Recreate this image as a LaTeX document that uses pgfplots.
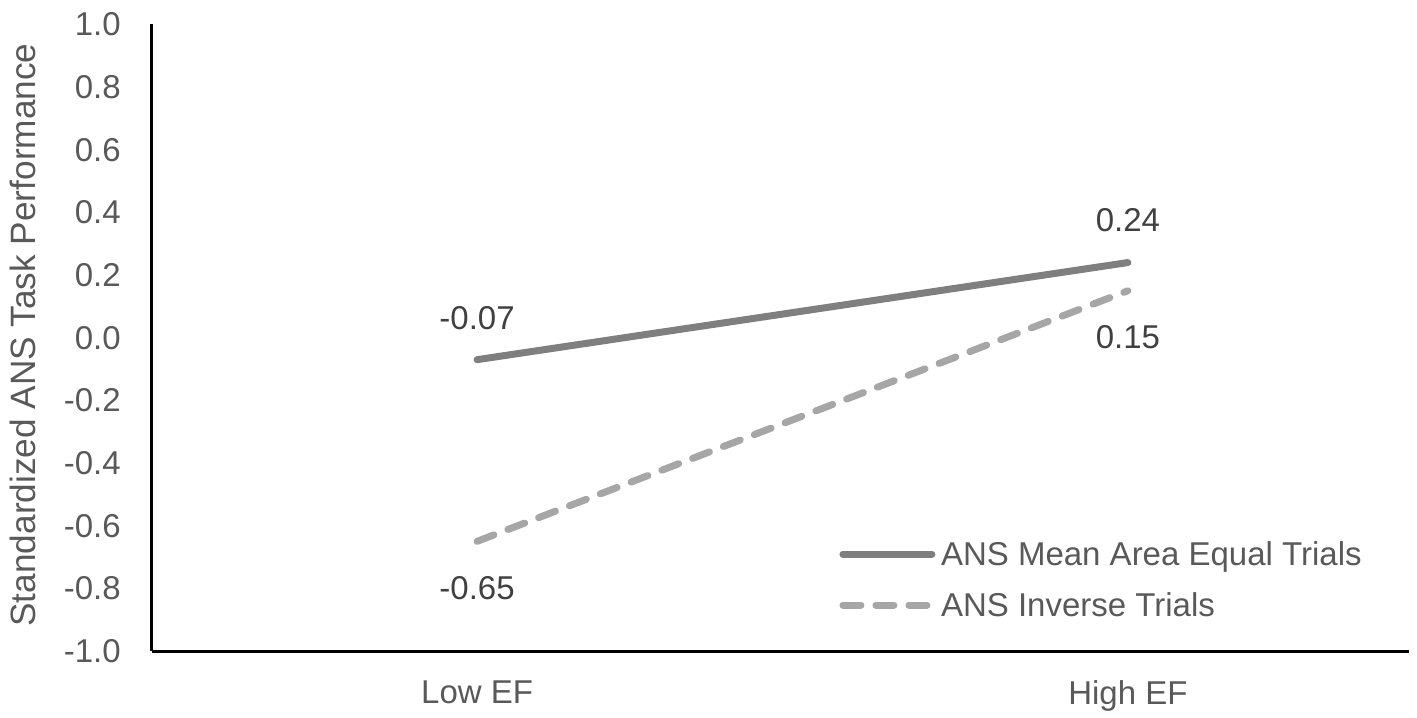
\documentclass[border=0pt]{standalone}
\usepackage{fontspec}
\setmainfont{Liberation Sans}
\usepackage{pgfplots}
\pgfplotsset{compat=1.18}
\definecolor{ctick}{HTML}{595959}
\definecolor{clab}{HTML}{404040}
\definecolor{csolid}{HTML}{7F7F7F}
\definecolor{cdash}{HTML}{A6A6A6}
\newcommand{\fs}{\fontsize{16.5}{19.8}\selectfont}
\begin{document}
\begin{tikzpicture}
\begin{axis}[
  scale only axis,
  width=628.65pt, height=313.25pt,
  xmin=-0.5, xmax=1.432,
  ymin=-1, ymax=1,
  axis x line=bottom, axis y line=left,
  axis line style={-, line width=1.5pt, black},
  major tick length=0pt,
  xtick={0,1}, xticklabels={Low EF, High EF},
  ytick={-1,-0.8,-0.6,-0.4,-0.2,0,0.2,0.4,0.6,0.8,1},
  yticklabels={-1.0,-0.8,-0.6,-0.4,-0.2,0.0,0.2,0.4,0.6,0.8,1.0},
  xticklabel style={font=\fs, text=ctick, inner sep=0pt, anchor=north, yshift=-14.5pt},
  yticklabel style={font=\fs, text=ctick, inner sep=0pt, anchor=east, xshift=-15.3pt},
  every axis y label/.style={at={(axis description cs:-0.0928,0.5044)}, rotate=90, anchor=base, font=\fontsize{17.6}{21}\selectfont, text=ctick, inner sep=0pt},
  ylabel={Standardized ANS Task Performance},
  clip=false,
  legend style={draw=none, fill=none, inner sep=0pt, outer sep=0pt,
    at={(0.547,0.1141)}, anchor=west, row sep=13.7pt, column sep=2.8pt,
    nodes={inner sep=0pt, text height=11.8pt, text depth=0pt, text=ctick, font=\fs}},
  legend cell align=left,
  legend image code/.code={\draw[#1] (0pt,0pt) -- (44.5pt,0pt);},
]
\addplot[csolid, line width=3.5pt, line cap=round,
  nodes near coords, point meta=explicit symbolic,
  every node near coord/.style={anchor=center, yshift=21pt, font=\fs, text=clab, inner sep=0pt}]
  coordinates {(0,-0.07)[-0.07] (1,0.24)[0.24]};
\addlegendentry{ANS Mean Area Equal Trials}
\addplot[cdash, line width=3.5pt, line cap=round, dash pattern=on 9pt off 7.5pt,
  nodes near coords, point meta=explicit symbolic,
  every node near coord/.style={anchor=center, yshift=-23.4pt, font=\fs, text=clab, inner sep=0pt}]
  coordinates {(0,-0.65)[-0.65] (1,0.15)[0.15]};
\addlegendentry{ANS Inverse Trials}
\coordinate (O) at (rel axis cs:0,0);
\end{axis}
\pgfresetboundingbox
\path[use as bounding box] ([shift={(-75.85pt,-33pt)}]O) rectangle ([shift={(632.65pt,325.5pt)}]O);
\end{tikzpicture}
\end{document}
